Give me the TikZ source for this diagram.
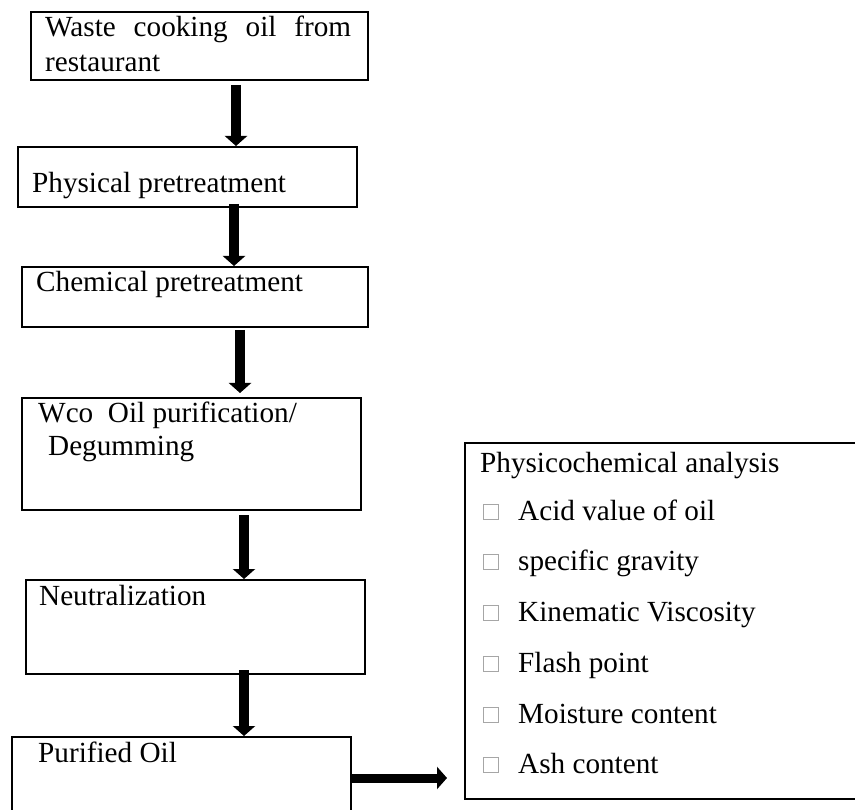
\documentclass[tikz,border=0pt]{standalone}
\usepackage{fontspec}
\setmainfont{Liberation Serif}
\usetikzlibrary{arrows.meta,calc}
\begin{document}
\begin{tikzpicture}[x=1pt,y=-1pt,
 box/.style={draw,line width=2pt,anchor=north west,inner sep=0pt},
 lbl/.style={anchor=base west,inner sep=0pt,font=\fontsize{29.2}{35}\selectfont},
 bigarrow/.style={line width=10pt,-{Triangle[width=22pt,length=10pt]}},
 chk/.style={draw=gray!70,line width=0.8pt,anchor=south west,minimum size=15pt,inner sep=0pt}]
\useasboundingbox (0,0) rectangle (855,810);
% boxes
\node[box,minimum width=337pt,minimum height=68pt] (b1) at (30,11) {};
\node[box,minimum width=339pt,minimum height=60pt] (b2) at (17,146) {};
\node[box,minimum width=346pt,minimum height=60pt] (b3) at (21,266) {};
\node[box,minimum width=339pt,minimum height=112pt] (b4) at (21,397) {};
\node[box,minimum width=339pt,minimum height=94pt] (b5) at (25,579) {};
\node[box,minimum width=339pt,minimum height=120pt] (b6) at (11,736) {};
\node[box,minimum width=420pt,minimum height=356pt] (r) at (464,442) {};
% texts
\node[lbl] (t1a) at (45,37) {\makebox[306pt][s]{Waste cooking oil from}};
\node[lbl] (t1b) at (45,72) {restaurant};
\node[lbl] (t2) at (32,193) {Physical pretreatment};
\node[lbl] (t3) at (36,292) {Chemical pretreatment};
\node[lbl] (t4a) at (38,423) {Wco\ \ Oil purification/};
\node[lbl] (t4b) at (48,456) {Degumming};
\node[lbl] (t5) at (39,605) {Neutralization};
\node[lbl] (t6) at (38,762) {Purified Oil};
\node[lbl] (rh) at (480,472) {Physicochemical analysis};
\foreach \y/\t [count=\i] in {520/Acid value of oil,570/specific gravity,621/Kinematic Viscosity,672/Flash point,723/Moisture content,773/Ash content}{
  \node[chk] (c\i) at (483,\y) {};
  \node[lbl] (i\i) at (518,\y) {\t};
}
% arrows
\coordinate (ax1) at (236,0);
\coordinate (ax2) at (234,0);
\coordinate (ax3) at (240,0);
\coordinate (ax4) at (244,0);
\coordinate (ax5) at (244,0);
\coordinate (ah) at (447,778);
\draw[bigarrow] ($(b1.south -| ax1)+(0,4)$) -- (b2.north -| ax1);
\draw[bigarrow] ($(b2.south -| ax2)+(0,-4)$) -- (b3.north -| ax2);
\draw[bigarrow] ($(b3.south -| ax3)+(0,2)$) -- ($(b4.north -| ax3)+(0,-4)$);
\draw[bigarrow] ($(b4.south -| ax4)+(0,4)$) -- (b5.north -| ax4);
\draw[bigarrow] ($(b5.south -| ax5)+(0,-5)$) -- (b6.north -| ax5);
\draw[bigarrow,line width=9pt] (b6.east |- ah) -- (ah);
\end{tikzpicture}
\end{document}
